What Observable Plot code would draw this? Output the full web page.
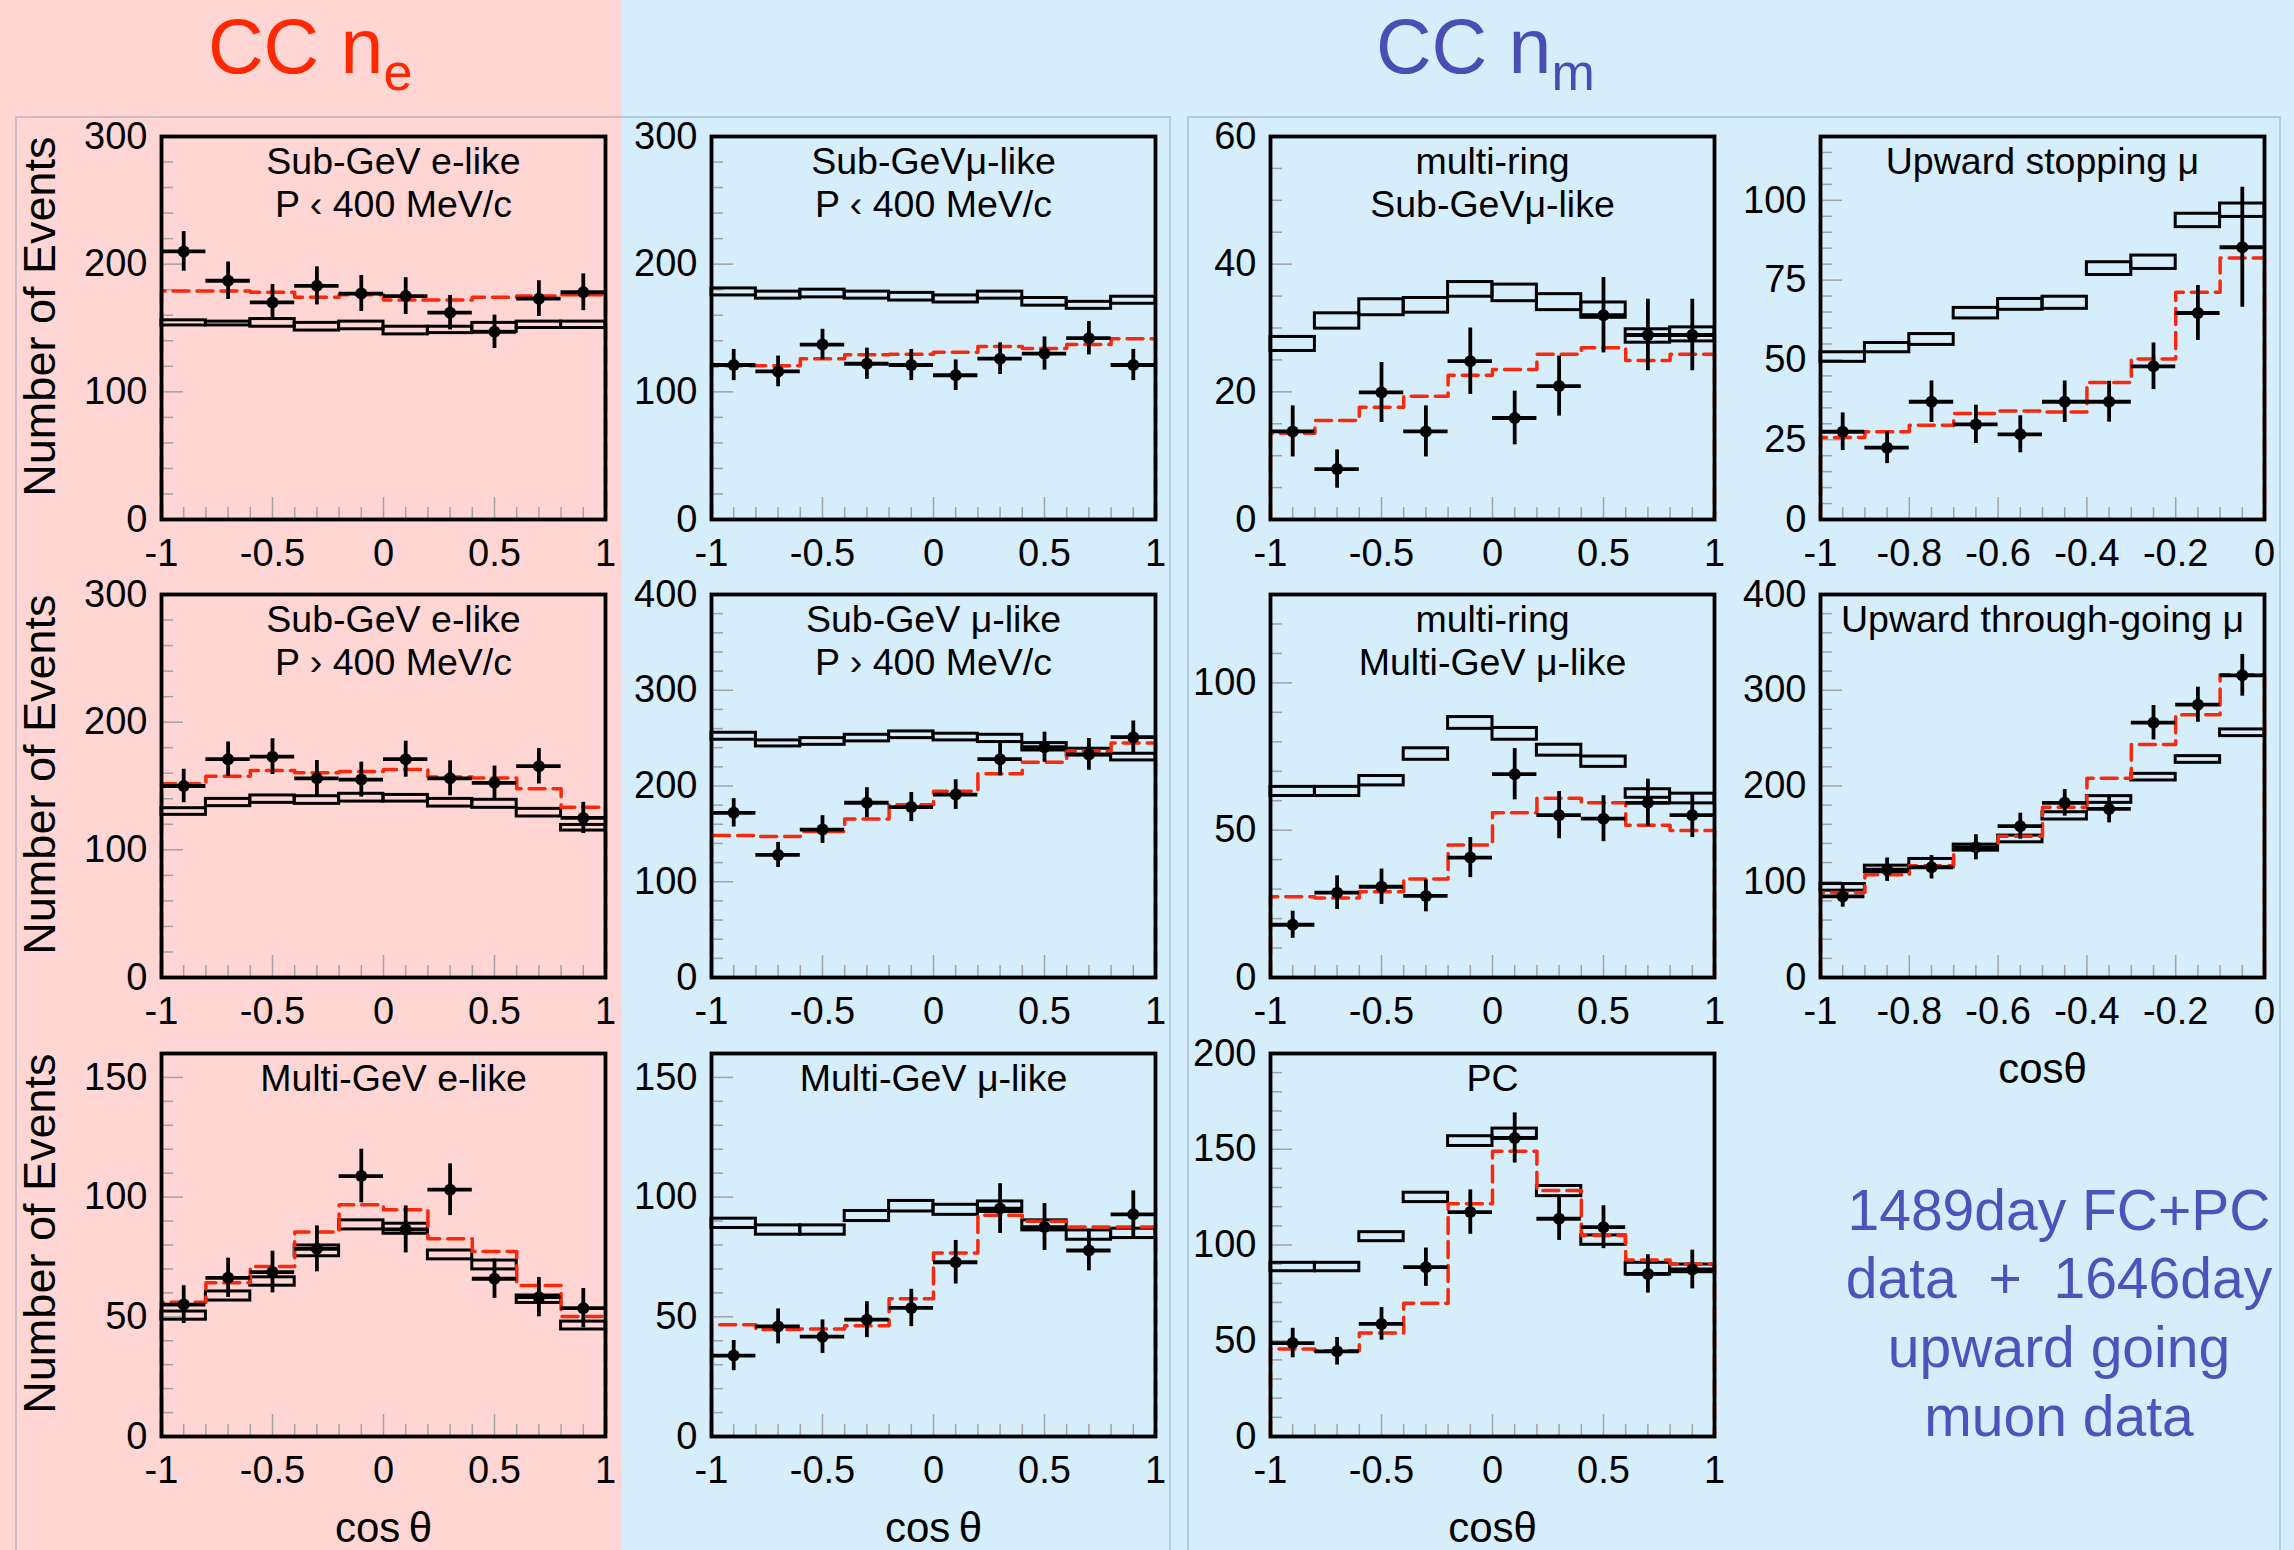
<!DOCTYPE html>
<html>
<head>
<meta charset="utf-8">
<script src="https://cdn.jsdelivr.net/npm/d3@7"></script>
<script src="https://cdn.jsdelivr.net/npm/@observablehq/plot@0.6"></script>
<style>
  html, body { margin: 0; padding: 0; }
  body { width: 2294px; height: 1550px; position: relative; overflow: hidden; background: #d6edfb; font-family: "Liberation Sans", Arial, sans-serif; }
  #deco { position: absolute; left: 0; top: 0; }
  .panel { position: absolute; }
</style>
</head>
<body>
<svg id="deco" width="2294" height="1550" font-family="Liberation Sans, Arial, sans-serif">
  <rect x="0" y="0" width="622" height="1550" fill="#ffd6d4"></rect>
  <rect x="16" y="117" width="1154" height="1460" fill="none" stroke="rgba(100,130,165,0.3)" stroke-width="2"></rect>
  <rect x="1188" y="117" width="1092" height="1460" fill="none" stroke="rgba(100,130,165,0.3)" stroke-width="2"></rect>
  <text x="208" y="73" font-size="77" fill="#ff2800">CC n<tspan font-size="52" dy="17">e</tspan></text>
  <text x="1376" y="73" font-size="77" fill="#4a4db3">CC n<tspan font-size="52" dy="17">m</tspan></text>
  <g fill="#4e52bb" font-size="57" text-anchor="middle">
    <text x="2059" y="1230">1489day FC+PC</text>
    <text x="2059" y="1298">data&#160;&#160;+&#160;&#160;1646day</text>
    <text x="2059" y="1367">upward going</text>
    <text x="2059" y="1436">muon data</text>
  </g>
</svg>
<div id="panels"></div>
<script>
// Zenith-angle bin edges (cos theta)
const edgesFull = [-1, -0.8, -0.6, -0.4, -0.2, 0, 0.2, 0.4, 0.6, 0.8, 1];
const edgesUp = [-1, -0.9, -0.8, -0.7, -0.6, -0.5, -0.4, -0.3, -0.2, -0.1, 0];

// Tick labels
const ticksFull = [-1, -0.5, 0, 0.5, 1];
const ticksUp = [-1, -0.8, -0.6, -0.4, -0.2, 0];

// Sub-GeV e-like, P < 400 MeV/c
const sgeLoData = [210, 187, 170, 183, 177, 175, 162, 147, 173, 178];
const sgeLoErr = [15.5, 14.7, 14.0, 14.9, 14.1, 14.4, 13.5, 13.1, 14.0, 14.4];
const sgeLoOsc = [179, 179, 178, 174, 176, 172, 172, 174, 175, 176];
const sgeLoNoOscLo = [152, 152, 151, 148, 149, 145, 146, 147, 150, 150];
const sgeLoNoOscHi = [156, 155, 157, 154, 155, 151, 151, 154, 155, 155];

// Sub-GeV mu-like, P < 400 MeV/c
const sgmLoData = [121, 116, 137, 122, 121, 113, 126, 130, 142, 121];
const sgmLoErr = [12.2, 12.0, 12.0, 12.2, 12.2, 12.0, 12.4, 13.0, 13.1, 12.2];
const sgmLoOsc = [120.5, 120.5, 126, 129, 129.5, 131, 135.5, 134, 137, 141.5];
const sgmLoNoOscLo = [175.5, 173, 174, 173, 171.5, 170, 173, 167.5, 165, 169];
const sgmLoNoOscHi = [181, 178.5, 180, 178.5, 177.5, 175.5, 178.5, 173.5, 170.5, 174.5];

// multi-ring Sub-GeV mu-like
const mrSgmData = [13.8, 7.9, 19.9, 13.8, 24.8, 15.9, 20.9, 32, 28.9, 28.9];
const mrSgmErr = [4.0, 3.0, 4.7, 4.0, 5.2, 4.2, 4.7, 5.9, 5.6, 5.6];
const mrSgmOsc = [13.5, 15.5, 17.6, 19.3, 22.6, 23.5, 25.9, 26.9, 24.9, 25.9];
const mrSgmNoOscLo = [26.4, 29.9, 32.0, 32.4, 34.9, 34.2, 32.8, 31.6, 27.7, 27.9];
const mrSgmNoOscHi = [28.6, 32.3, 34.5, 34.7, 37.2, 36.8, 35.3, 34.0, 29.8, 30.1];

// Upward stopping mu
const upStopData = [27.5, 22.5, 36.9, 29.8, 26.7, 36.9, 36.9, 48, 64.7, 85.3];
const upStopErr = [5.9, 5.0, 6.5, 6.0, 5.8, 6.5, 6.4, 7.3, 8.6, 18.8];
const upStopOsc = [25.7, 27.5, 29.5, 33.2, 34.0, 33.7, 42.9, 50.3, 71.2, 81.9];
const upStopNoOscLo = [49.4, 52.4, 54.7, 63.0, 65.7, 66.0, 76.6, 78.5, 91.6, 94.8];
const upStopNoOscHi = [52.4, 55.3, 58.1, 66.3, 69.1, 69.8, 80.6, 82.7, 95.8, 99.0];

// Sub-GeV e-like, P > 400 MeV/c
const sgeHiData = [150, 171, 173, 156, 155, 171, 156, 152.5, 165.5, 125];
const sgeHiErr = [13.1, 13.5, 14.0, 14.0, 13.7, 14.1, 13.7, 13.1, 13.9, 12.2];
const sgeHiOsc = [151.7, 157.7, 162.2, 160.3, 161.4, 163, 157, 156.2, 147.8, 133.4];
const sgeHiNoOscLo = [127.4, 134.2, 136.8, 136, 137.8, 137.8, 133.9, 132.9, 126.1, 115.1];
const sgeHiNoOscHi = [132.6, 139.9, 142.6, 142, 143.9, 143, 139.9, 139.2, 132.1, 119.5];

// Sub-GeV mu-like, P > 400 MeV/c
const sgmHiData = [172, 128, 154.5, 182.5, 178, 191, 228, 240.5, 233, 251];
const sgmHiErr = [14.8, 13.1, 14.5, 15.7, 15.2, 15.5, 17.4, 15.7, 16.6, 16.9];
const sgmHiOsc = [148.2, 147.2, 152.4, 165.6, 180.3, 194.6, 212.7, 224.9, 236.4, 244.8];
const sgmHiNoOscLo = [248.3, 241.3, 243, 246.6, 250, 247.6, 245.9, 237.1, 231.9, 226.7];
const sgmHiNoOscHi = [255.6, 247.6, 250, 253.5, 257, 254.6, 253.5, 244.8, 238.9, 233.7];

// multi-ring Multi-GeV mu-like
const mrMgmData = [17.9, 28.8, 30.8, 27.7, 40.7, 69, 55.1, 53.9, 59.3, 55.1];
const mrMgmErr = [4.6, 5.7, 6.0, 5.4, 6.8, 8.7, 8.0, 7.8, 8.0, 7.6];
const mrMgmOsc = [27.4, 27.0, 29.1, 33.4, 45.0, 55.9, 60.8, 59.3, 51.7, 49.9];
const mrMgmNoOscLo = [61.6, 61.6, 65.2, 73.9, 84.4, 80.7, 75.3, 71.5, 61.0, 59.1];
const mrMgmNoOscHi = [64.7, 64.7, 68.4, 77.8, 88.4, 84.7, 79.0, 75.0, 63.9, 62.4];

// Upward through-going mu
const upThruData = [84.7, 112.6, 115.1, 136, 158, 182.4, 176.1, 266.1, 284.9, 315.6];
const upThruErr = [11.3, 12.2, 12.2, 13.1, 13.6, 13.9, 14.6, 18.0, 18.3, 21.8];
const upThruOsc = [88.9, 107.4, 116.8, 136, 147.5, 177.9, 208.2, 243.4, 274.5, 316.3];
const upThruNoOscLo = [90.7, 109.9, 115.1, 132.5, 141.2, 165, 182.4, 205.8, 224.2, 252.1];
const upThruNoOscHi = [97.6, 116.8, 123.8, 138.8, 148.2, 172.6, 189.4, 212.7, 231.2, 259.1];

// Multi-GeV e-like
const mgeData = [55.1, 66.3, 68.7, 78.4, 108.8, 86.5, 103.1, 65.9, 58.2, 53.6];
const mgeErr = [7.9, 8.2, 8.7, 9.6, 11.2, 9.8, 10.8, 8.2, 8.2, 8.2];
const mgeOsc = [56.1, 64.2, 71.0, 85.4, 96.8, 94.7, 82.6, 77.3, 63.1, 50.1];
const mgeNoOscLo = [48.8, 56.8, 63.0, 75.3, 86.5, 84.7, 74.0, 69.8, 55.8, 44.7];
const mgeNoOscHi = [52.2, 60.6, 66.5, 79.8, 90.3, 88.9, 77.7, 73.5, 58.9, 48.0];

// Multi-GeV mu-like
const mgmData = [33.8, 46.0, 41.7, 48.8, 53.7, 72.8, 95.2, 87.5, 77.7, 92.8];
const mgmErr = [6.3, 7.3, 7.0, 7.5, 7.8, 9.1, 10.4, 9.8, 8.5, 9.8];
const mgmOsc = [46.7, 44.7, 44.9, 46.3, 57.5, 76.7, 92.4, 89.9, 87.5, 87.5];
const mgmNoOscLo = [87.1, 84.3, 84.3, 90.0, 94.0, 92.6, 93.8, 86.1, 82.2, 82.9];
const mgmNoOscHi = [91.0, 88.2, 88.2, 94.2, 98.4, 96.8, 98.2, 90.3, 86.1, 86.8];

// Partially contained
const pcData = [48.8, 44.5, 58.8, 88.4, 117.2, 155.9, 113.7, 109.3, 84.9, 87.2];
const pcErr = [7.7, 7.2, 8.5, 10.0, 11.6, 13.1, 11.3, 11.2, 10.0, 10.1];
const pcOsc = [45.7, 44.8, 54.1, 69.6, 121.5, 148.9, 128.5, 105.0, 92.2, 90.1];
const pcNoOscLo = [86.3, 86.3, 102.0, 122.4, 151.7, 155.5, 125.5, 100.1, 84.6, 85.8];
const pcNoOscHi = [90.7, 90.7, 106.7, 127.3, 156.8, 160.8, 130.8, 105.0, 90.7, 89.8];

// Panel titles and axis titles
const panelTitles = [
  "Sub-GeV e-like\nP \u2039 400 MeV/c",
  "Sub-GeV\u03bc-like\nP \u2039 400 MeV/c",
  "multi-ring\nSub-GeV\u03bc-like",
  "Upward stopping \u03bc",
  "Sub-GeV e-like\nP \u203a 400 MeV/c",
  "Sub-GeV \u03bc-like\nP \u203a 400 MeV/c",
  "multi-ring\nMulti-GeV \u03bc-like",
  "Upward through-going \u03bc",
  "Multi-GeV e-like",
  "Multi-GeV \u03bc-like",
  "PC"
];
const yTitle = "Number of Events";
const xTitles = ["cos\u2009\u03b8", "cos\u2009\u03b8", "cos\u03b8", "cos\u03b8"];

// Grid layout of the plot frames
const FRAME_W = 444, FRAME_H = 383;
const colLeft = [161, 711, 1270, 1820];
const rowTop = [136, 594, 1053];
const RED = "#f8290c";
const TICK = "#a3a3a3";

const panels = [
  {row: 0, col: 0, edges: edgesFull, xTicks: ticksFull, xMinor: 0.1, yMax: 300, yTicks: [0, 100, 200, 300], yMinor: 20,
   data: sgeLoData, err: sgeLoErr, osc: sgeLoOsc, lo: sgeLoNoOscLo, hi: sgeLoNoOscHi, title: panelTitles[0], yTitle},
  {row: 0, col: 1, edges: edgesFull, xTicks: ticksFull, xMinor: 0.1, yMax: 300, yTicks: [0, 100, 200, 300], yMinor: 20,
   data: sgmLoData, err: sgmLoErr, osc: sgmLoOsc, lo: sgmLoNoOscLo, hi: sgmLoNoOscHi, title: panelTitles[1]},
  {row: 0, col: 2, edges: edgesFull, xTicks: ticksFull, xMinor: 0.1, yMax: 60, yTicks: [0, 20, 40, 60], yMinor: 5,
   data: mrSgmData, err: mrSgmErr, osc: mrSgmOsc, lo: mrSgmNoOscLo, hi: mrSgmNoOscHi, title: panelTitles[2]},
  {row: 0, col: 3, edges: edgesUp, xTicks: ticksUp, xMinor: 0.05, yMax: 120, yTicks: [0, 25, 50, 75, 100], yMinor: 5,
   data: upStopData, err: upStopErr, osc: upStopOsc, lo: upStopNoOscLo, hi: upStopNoOscHi, title: panelTitles[3]},
  {row: 1, col: 0, edges: edgesFull, xTicks: ticksFull, xMinor: 0.1, yMax: 300, yTicks: [0, 100, 200, 300], yMinor: 20,
   data: sgeHiData, err: sgeHiErr, osc: sgeHiOsc, lo: sgeHiNoOscLo, hi: sgeHiNoOscHi, title: panelTitles[4], yTitle},
  {row: 1, col: 1, edges: edgesFull, xTicks: ticksFull, xMinor: 0.1, yMax: 400, yTicks: [0, 100, 200, 300, 400], yMinor: 20,
   data: sgmHiData, err: sgmHiErr, osc: sgmHiOsc, lo: sgmHiNoOscLo, hi: sgmHiNoOscHi, title: panelTitles[5]},
  {row: 1, col: 2, edges: edgesFull, xTicks: ticksFull, xMinor: 0.1, yMax: 130, yTicks: [0, 50, 100], yMinor: 10,
   data: mrMgmData, err: mrMgmErr, osc: mrMgmOsc, lo: mrMgmNoOscLo, hi: mrMgmNoOscHi, title: panelTitles[6]},
  {row: 1, col: 3, edges: edgesUp, xTicks: ticksUp, xMinor: 0.05, yMax: 400, yTicks: [0, 100, 200, 300, 400], yMinor: 20,
   data: upThruData, err: upThruErr, osc: upThruOsc, lo: upThruNoOscLo, hi: upThruNoOscHi, title: panelTitles[7], xTitle: xTitles[3]},
  {row: 2, col: 0, edges: edgesFull, xTicks: ticksFull, xMinor: 0.1, yMax: 160, yTicks: [0, 50, 100, 150], yMinor: 10,
   data: mgeData, err: mgeErr, osc: mgeOsc, lo: mgeNoOscLo, hi: mgeNoOscHi, title: panelTitles[8], yTitle, xTitle: xTitles[0]},
  {row: 2, col: 1, edges: edgesFull, xTicks: ticksFull, xMinor: 0.1, yMax: 160, yTicks: [0, 50, 100, 150], yMinor: 10,
   data: mgmData, err: mgmErr, osc: mgmOsc, lo: mgmNoOscLo, hi: mgmNoOscHi, title: panelTitles[9], xTitle: xTitles[1]},
  {row: 2, col: 2, edges: edgesFull, xTicks: ticksFull, xMinor: 0.1, yMax: 200, yTicks: [0, 50, 100, 150, 200], yMinor: 10,
   data: pcData, err: pcErr, osc: pcOsc, lo: pcNoOscLo, hi: pcNoOscHi, title: panelTitles[10], xTitle: xTitles[2]}
];

const near = (a, list) => list.some(b => Math.abs(a - b) < 1e-9);

function drawPanel(p) {
  const ML = p.col === 0 ? 161 : 110, MR = 24, MT = 20, MB = 125;
  const edges = p.edges;
  const x0 = edges[0], x1 = edges[edges.length - 1], xspan = x1 - x0;
  const n = p.data.length;

  // one record per zenith bin
  const bins = d3.range(n).map(i => ({
    x1: edges[i], x2: edges[i + 1], xc: (edges[i] + edges[i + 1]) / 2,
    v: p.data[i], e: p.err[i], lo: p.lo[i], hi: p.hi[i]
  }));

  // outline of the oscillated expectation, closed down to zero at both ends
  const outline = [{x: x0, y: 0}]
    .concat(p.osc.map((v, i) => ({x: edges[i], y: v})))
    .concat([{x: x1, y: p.osc[n - 1]}, {x: x1, y: 0}]);

  // inner tick marks
  const yMinorTicks = d3.range(0, p.yMax + 1e-9, p.yMinor).filter(v => !near(v, p.yTicks));
  const xMinorTicks = d3.range(0, Math.round(xspan / p.xMinor) + 1).map(k => x0 + k * p.xMinor).filter(v => !near(v, p.xTicks));
  const lenX = px => xspan * px / FRAME_W;
  const lenY = px => p.yMax * px / FRAME_H;

  const marks = [
    Plot.ruleY(yMinorTicks, {x1: x0, x2: x0 + lenX(12), stroke: TICK, strokeWidth: 1.5}),
    Plot.ruleY(p.yTicks, {x1: x0, x2: x0 + lenX(22), stroke: TICK, strokeWidth: 1.5}),
    Plot.ruleX(xMinorTicks, {y1: 0, y2: lenY(12), stroke: TICK, strokeWidth: 1.5}),
    Plot.ruleX(p.xTicks, {y1: 0, y2: lenY(22), stroke: TICK, strokeWidth: 1.5}),
    // no-oscillation expectation band
    Plot.rect(bins, {x1: "x1", x2: "x2", y1: "lo", y2: "hi", fill: "none", stroke: "black", strokeWidth: 3}),
    // best-fit oscillation expectation
    Plot.line(outline, {x: "x", y: "y", curve: "step-after", stroke: RED, strokeWidth: 3.5, strokeDasharray: "16,8"}),
    // data with statistical errors
    Plot.ruleX(bins, {x: "xc", y1: d => d.v - d.e, y2: d => d.v + d.e, stroke: "black", strokeWidth: 3.8}),
    Plot.ruleY(bins, {y: "v", x1: "x1", x2: "x2", stroke: "black", strokeWidth: 3.8}),
    Plot.dot(bins, {x: "xc", y: "v", r: 6, fill: "black"}),
    Plot.frame({stroke: "black", strokeWidth: 3.8}),
    Plot.axisY({ticks: p.yTicks, tickSize: 0, tickPadding: 14, fontSize: 38, tickFormat: d => String(d), label: null}),
    Plot.axisX({ticks: p.xTicks, tickSize: 0, tickPadding: 20, fontSize: 38, tickFormat: d => String(d), label: null}),
    Plot.text([p.title], {frameAnchor: "top", lineAnchor: "top", dy: 7, dx: p.col === 0 ? 10 : 0, fontSize: 37.5, lineHeight: 1.15, fill: "black"})
  ];
  if (p.yTitle) {
    marks.push(Plot.text([p.yTitle], {frameAnchor: "top-left", rotate: -90, textAnchor: "end", lineAnchor: "bottom", dx: -107, fontSize: 45, fill: "black"}));
  }
  if (p.xTitle) {
    marks.push(Plot.text([p.xTitle], {frameAnchor: "bottom", lineAnchor: "bottom", dy: 105, fontSize: 42, fill: "black"}));
  }

  const chart = Plot.plot({
    width: ML + FRAME_W + MR,
    height: MT + FRAME_H + MB,
    marginLeft: ML, marginRight: MR, marginTop: MT, marginBottom: MB,
    x: {domain: [x0, x1]},
    y: {domain: [0, p.yMax]},
    style: {background: "transparent", fontFamily: "Liberation Sans, Arial, sans-serif", overflow: "visible", color: "black"},
    marks
  });
  const holder = document.createElement("div");
  holder.className = "panel";
  holder.style.left = (colLeft[p.col] - ML) + "px";
  holder.style.top = (rowTop[p.row] - MT) + "px";
  holder.appendChild(chart);
  document.getElementById("panels").appendChild(holder);
}

panels.forEach(drawPanel);
</script>
</body>
</html>
